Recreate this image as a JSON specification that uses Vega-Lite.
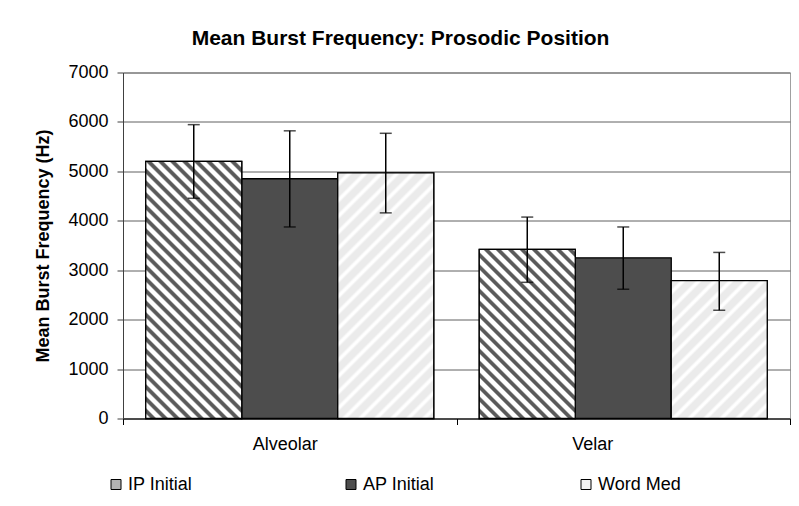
{
  "$schema": "https://vega.github.io/schema/vega-lite/v6.json",
  "width": 667,
  "height": 346,
  "autosize": {"type": "none"},
  "padding": {"left": 123, "top": 72.5, "right": 9, "bottom": 87.5},
  "background": "white",
  "title": {"text": "Mean Burst Frequency: Prosodic Position", "font": "Liberation Sans", "fontSize": 21, "fontWeight": "bold", "color": "#000", "frame": "group", "anchor": "middle", "dx": -56, "baseline": "alphabetic", "offset": -2},
  "data": {"values": [
    {"cat": "Alveolar", "series": "IP Initial", "mean": 5200, "lo": 4455, "hi": 5945},
    {"cat": "Alveolar", "series": "AP Initial", "mean": 4850, "lo": 3875, "hi": 5820},
    {"cat": "Alveolar", "series": "Word Med", "mean": 4970, "lo": 4160, "hi": 5770},
    {"cat": "Velar", "series": "IP Initial", "mean": 3420, "lo": 2755, "hi": 4075},
    {"cat": "Velar", "series": "AP Initial", "mean": 3250, "lo": 2615, "hi": 3875},
    {"cat": "Velar", "series": "Word Med", "mean": 2790, "lo": 2190, "hi": 3360}
  ]},
  "encoding": {
    "x": {"field": "cat", "type": "nominal", "sort": ["Alveolar", "Velar"], "scale": {"paddingInner": 0, "paddingOuter": 0},
      "axis": {"title": null, "labelAngle": 0, "labelFont": "Liberation Sans", "labelFontSize": 18, "labelColor": "#000", "tickBand": "extent", "tickSize": 6, "tickColor": "#000", "domainColor": "#000", "labelPadding": 11, "grid": false,
        "labelOffset": {"condition": {"test": "datum.value === 'Velar'", "value": -31}, "value": -5}}},
    "xOffset": {"field": "series", "type": "nominal", "sort": ["IP Initial", "AP Initial", "Word Med"], "scale": {"domain": ["IP Initial", "AP Initial", "Word Med"], "paddingInner": 0, "paddingOuter": 0.237}}
  },
  "layer": [
    {
      "mark": {"type": "bar", "stroke": "#000", "strokeWidth": 1.3},
      "encoding": {
        "y": {"field": "mean", "type": "quantitative", "scale": {"domain": [0, 7000], "nice": false},
          "axis": {"title": "Mean Burst Frequency (Hz)", "titleFont": "Liberation Sans", "titleFontSize": 18, "titleFontWeight": "bold", "titleColor": "#000", "titlePadding": 15,
            "values": [0, 1000, 2000, 3000, 4000, 5000, 6000, 7000], "format": "d", "labelFont": "Liberation Sans", "labelFontSize": 18, "labelColor": "#000", "labelPadding": 9,
            "tickSize": 6, "tickColor": "#404040", "domainColor": "#404040", "grid": true, "gridColor": "#606060"}},
        "color": {"field": "series", "type": "nominal", "scale": {"domain": ["IP Initial", "AP Initial", "Word Med"], "range": ["#b3b3b3", "#4d4d4d", "#f2f2f2"]},
          "legend": {"title": null, "orient": "none", "legendX": -16, "legendY": 403, "direction": "horizontal", "symbolType": "square", "symbolSize": 100, "symbolStrokeColor": "#000", "symbolStrokeWidth": 1, "labelFont": "Liberation Sans", "labelFontSize": 18, "labelColor": "#000", "labelOffset": 3, "columnPadding": 131, "gridAlign": "all", "padding": 0}}
      }
    },
    {
      "transform": [{"filter": "datum.cat === 'Alveolar' && datum.series === 'IP Initial'"}],
      "mark": {"type": "bar", "stroke": "#000", "strokeWidth": 1.3, "fill": {"gradient": "linear", "x1": 0, "y1": 1, "x2": 0.45908, "y2": -0.22915, "stops": [
        {"offset": 0.0117, "color": "#fff"}, {"offset": 0.0167, "color": "#5a5a5a"}, {"offset": 0.0267, "color": "#5a5a5a"}, {"offset": 0.0317, "color": "#fff"},
        {"offset": 0.045, "color": "#fff"}, {"offset": 0.05, "color": "#5a5a5a"}, {"offset": 0.06, "color": "#5a5a5a"}, {"offset": 0.065, "color": "#fff"},
        {"offset": 0.0783, "color": "#fff"}, {"offset": 0.0833, "color": "#5a5a5a"}, {"offset": 0.0933, "color": "#5a5a5a"}, {"offset": 0.0983, "color": "#fff"},
        {"offset": 0.1117, "color": "#fff"}, {"offset": 0.1167, "color": "#5a5a5a"}, {"offset": 0.1267, "color": "#5a5a5a"}, {"offset": 0.1317, "color": "#fff"},
        {"offset": 0.145, "color": "#fff"}, {"offset": 0.15, "color": "#5a5a5a"}, {"offset": 0.16, "color": "#5a5a5a"}, {"offset": 0.165, "color": "#fff"},
        {"offset": 0.1783, "color": "#fff"}, {"offset": 0.1833, "color": "#5a5a5a"}, {"offset": 0.1933, "color": "#5a5a5a"}, {"offset": 0.1983, "color": "#fff"},
        {"offset": 0.2117, "color": "#fff"}, {"offset": 0.2167, "color": "#5a5a5a"}, {"offset": 0.2267, "color": "#5a5a5a"}, {"offset": 0.2317, "color": "#fff"},
        {"offset": 0.245, "color": "#fff"}, {"offset": 0.25, "color": "#5a5a5a"}, {"offset": 0.26, "color": "#5a5a5a"}, {"offset": 0.265, "color": "#fff"},
        {"offset": 0.2783, "color": "#fff"}, {"offset": 0.2833, "color": "#5a5a5a"}, {"offset": 0.2933, "color": "#5a5a5a"}, {"offset": 0.2983, "color": "#fff"},
        {"offset": 0.3117, "color": "#fff"}, {"offset": 0.3167, "color": "#5a5a5a"}, {"offset": 0.3267, "color": "#5a5a5a"}, {"offset": 0.3317, "color": "#fff"},
        {"offset": 0.345, "color": "#fff"}, {"offset": 0.35, "color": "#5a5a5a"}, {"offset": 0.36, "color": "#5a5a5a"}, {"offset": 0.365, "color": "#fff"},
        {"offset": 0.3783, "color": "#fff"}, {"offset": 0.3833, "color": "#5a5a5a"}, {"offset": 0.3933, "color": "#5a5a5a"}, {"offset": 0.3983, "color": "#fff"},
        {"offset": 0.4117, "color": "#fff"}, {"offset": 0.4167, "color": "#5a5a5a"}, {"offset": 0.4267, "color": "#5a5a5a"}, {"offset": 0.4317, "color": "#fff"},
        {"offset": 0.445, "color": "#fff"}, {"offset": 0.45, "color": "#5a5a5a"}, {"offset": 0.46, "color": "#5a5a5a"}, {"offset": 0.465, "color": "#fff"},
        {"offset": 0.4783, "color": "#fff"}, {"offset": 0.4833, "color": "#5a5a5a"}, {"offset": 0.4933, "color": "#5a5a5a"}, {"offset": 0.4983, "color": "#fff"},
        {"offset": 0.5117, "color": "#fff"}, {"offset": 0.5167, "color": "#5a5a5a"}, {"offset": 0.5267, "color": "#5a5a5a"}, {"offset": 0.5317, "color": "#fff"},
        {"offset": 0.545, "color": "#fff"}, {"offset": 0.55, "color": "#5a5a5a"}, {"offset": 0.56, "color": "#5a5a5a"}, {"offset": 0.565, "color": "#fff"},
        {"offset": 0.5783, "color": "#fff"}, {"offset": 0.5833, "color": "#5a5a5a"}, {"offset": 0.5933, "color": "#5a5a5a"}, {"offset": 0.5983, "color": "#fff"},
        {"offset": 0.6117, "color": "#fff"}, {"offset": 0.6167, "color": "#5a5a5a"}, {"offset": 0.6267, "color": "#5a5a5a"}, {"offset": 0.6317, "color": "#fff"},
        {"offset": 0.645, "color": "#fff"}, {"offset": 0.65, "color": "#5a5a5a"}, {"offset": 0.66, "color": "#5a5a5a"}, {"offset": 0.665, "color": "#fff"},
        {"offset": 0.6783, "color": "#fff"}, {"offset": 0.6833, "color": "#5a5a5a"}, {"offset": 0.6933, "color": "#5a5a5a"}, {"offset": 0.6983, "color": "#fff"},
        {"offset": 0.7117, "color": "#fff"}, {"offset": 0.7167, "color": "#5a5a5a"}, {"offset": 0.7267, "color": "#5a5a5a"}, {"offset": 0.7317, "color": "#fff"},
        {"offset": 0.745, "color": "#fff"}, {"offset": 0.75, "color": "#5a5a5a"}, {"offset": 0.76, "color": "#5a5a5a"}, {"offset": 0.765, "color": "#fff"},
        {"offset": 0.7783, "color": "#fff"}, {"offset": 0.7833, "color": "#5a5a5a"}, {"offset": 0.7933, "color": "#5a5a5a"}, {"offset": 0.7983, "color": "#fff"},
        {"offset": 0.8117, "color": "#fff"}, {"offset": 0.8167, "color": "#5a5a5a"}, {"offset": 0.8267, "color": "#5a5a5a"}, {"offset": 0.8317, "color": "#fff"},
        {"offset": 0.845, "color": "#fff"}, {"offset": 0.85, "color": "#5a5a5a"}, {"offset": 0.86, "color": "#5a5a5a"}, {"offset": 0.865, "color": "#fff"},
        {"offset": 0.8783, "color": "#fff"}, {"offset": 0.8833, "color": "#5a5a5a"}, {"offset": 0.8933, "color": "#5a5a5a"}, {"offset": 0.8983, "color": "#fff"},
        {"offset": 0.9117, "color": "#fff"}, {"offset": 0.9167, "color": "#5a5a5a"}, {"offset": 0.9267, "color": "#5a5a5a"}, {"offset": 0.9317, "color": "#fff"},
        {"offset": 0.945, "color": "#fff"}, {"offset": 0.95, "color": "#5a5a5a"}, {"offset": 0.96, "color": "#5a5a5a"}, {"offset": 0.965, "color": "#fff"},
        {"offset": 0.9783, "color": "#fff"}, {"offset": 0.9833, "color": "#5a5a5a"}, {"offset": 0.9933, "color": "#5a5a5a"}, {"offset": 0.9983, "color": "#fff"}
      ]}},
      "encoding": {"y": {"field": "mean", "type": "quantitative"}}
    },
    {
      "transform": [{"filter": "datum.cat === 'Velar' && datum.series === 'IP Initial'"}],
      "mark": {"type": "bar", "stroke": "#000", "strokeWidth": 1.3, "fill": {"gradient": "linear", "x1": 0, "y1": 1, "x2": 0.91443, "y2": -0.61026, "stops": [
        {"offset": 0.0117, "color": "#fff"}, {"offset": 0.0167, "color": "#5a5a5a"}, {"offset": 0.0267, "color": "#5a5a5a"}, {"offset": 0.0317, "color": "#fff"},
        {"offset": 0.045, "color": "#fff"}, {"offset": 0.05, "color": "#5a5a5a"}, {"offset": 0.06, "color": "#5a5a5a"}, {"offset": 0.065, "color": "#fff"},
        {"offset": 0.0783, "color": "#fff"}, {"offset": 0.0833, "color": "#5a5a5a"}, {"offset": 0.0933, "color": "#5a5a5a"}, {"offset": 0.0983, "color": "#fff"},
        {"offset": 0.1117, "color": "#fff"}, {"offset": 0.1167, "color": "#5a5a5a"}, {"offset": 0.1267, "color": "#5a5a5a"}, {"offset": 0.1317, "color": "#fff"},
        {"offset": 0.145, "color": "#fff"}, {"offset": 0.15, "color": "#5a5a5a"}, {"offset": 0.16, "color": "#5a5a5a"}, {"offset": 0.165, "color": "#fff"},
        {"offset": 0.1783, "color": "#fff"}, {"offset": 0.1833, "color": "#5a5a5a"}, {"offset": 0.1933, "color": "#5a5a5a"}, {"offset": 0.1983, "color": "#fff"},
        {"offset": 0.2117, "color": "#fff"}, {"offset": 0.2167, "color": "#5a5a5a"}, {"offset": 0.2267, "color": "#5a5a5a"}, {"offset": 0.2317, "color": "#fff"},
        {"offset": 0.245, "color": "#fff"}, {"offset": 0.25, "color": "#5a5a5a"}, {"offset": 0.26, "color": "#5a5a5a"}, {"offset": 0.265, "color": "#fff"},
        {"offset": 0.2783, "color": "#fff"}, {"offset": 0.2833, "color": "#5a5a5a"}, {"offset": 0.2933, "color": "#5a5a5a"}, {"offset": 0.2983, "color": "#fff"},
        {"offset": 0.3117, "color": "#fff"}, {"offset": 0.3167, "color": "#5a5a5a"}, {"offset": 0.3267, "color": "#5a5a5a"}, {"offset": 0.3317, "color": "#fff"},
        {"offset": 0.345, "color": "#fff"}, {"offset": 0.35, "color": "#5a5a5a"}, {"offset": 0.36, "color": "#5a5a5a"}, {"offset": 0.365, "color": "#fff"},
        {"offset": 0.3783, "color": "#fff"}, {"offset": 0.3833, "color": "#5a5a5a"}, {"offset": 0.3933, "color": "#5a5a5a"}, {"offset": 0.3983, "color": "#fff"},
        {"offset": 0.4117, "color": "#fff"}, {"offset": 0.4167, "color": "#5a5a5a"}, {"offset": 0.4267, "color": "#5a5a5a"}, {"offset": 0.4317, "color": "#fff"},
        {"offset": 0.445, "color": "#fff"}, {"offset": 0.45, "color": "#5a5a5a"}, {"offset": 0.46, "color": "#5a5a5a"}, {"offset": 0.465, "color": "#fff"},
        {"offset": 0.4783, "color": "#fff"}, {"offset": 0.4833, "color": "#5a5a5a"}, {"offset": 0.4933, "color": "#5a5a5a"}, {"offset": 0.4983, "color": "#fff"},
        {"offset": 0.5117, "color": "#fff"}, {"offset": 0.5167, "color": "#5a5a5a"}, {"offset": 0.5267, "color": "#5a5a5a"}, {"offset": 0.5317, "color": "#fff"},
        {"offset": 0.545, "color": "#fff"}, {"offset": 0.55, "color": "#5a5a5a"}, {"offset": 0.56, "color": "#5a5a5a"}, {"offset": 0.565, "color": "#fff"},
        {"offset": 0.5783, "color": "#fff"}, {"offset": 0.5833, "color": "#5a5a5a"}, {"offset": 0.5933, "color": "#5a5a5a"}, {"offset": 0.5983, "color": "#fff"},
        {"offset": 0.6117, "color": "#fff"}, {"offset": 0.6167, "color": "#5a5a5a"}, {"offset": 0.6267, "color": "#5a5a5a"}, {"offset": 0.6317, "color": "#fff"},
        {"offset": 0.645, "color": "#fff"}, {"offset": 0.65, "color": "#5a5a5a"}, {"offset": 0.66, "color": "#5a5a5a"}, {"offset": 0.665, "color": "#fff"},
        {"offset": 0.6783, "color": "#fff"}, {"offset": 0.6833, "color": "#5a5a5a"}, {"offset": 0.6933, "color": "#5a5a5a"}, {"offset": 0.6983, "color": "#fff"},
        {"offset": 0.7117, "color": "#fff"}, {"offset": 0.7167, "color": "#5a5a5a"}, {"offset": 0.7267, "color": "#5a5a5a"}, {"offset": 0.7317, "color": "#fff"},
        {"offset": 0.745, "color": "#fff"}, {"offset": 0.75, "color": "#5a5a5a"}, {"offset": 0.76, "color": "#5a5a5a"}, {"offset": 0.765, "color": "#fff"},
        {"offset": 0.7783, "color": "#fff"}, {"offset": 0.7833, "color": "#5a5a5a"}, {"offset": 0.7933, "color": "#5a5a5a"}, {"offset": 0.7983, "color": "#fff"}
      ]}},
      "encoding": {"y": {"field": "mean", "type": "quantitative"}}
    },
    {
      "transform": [{"filter": "datum.cat === 'Alveolar' && datum.series === 'Word Med'"}],
      "mark": {"type": "bar", "stroke": "#000", "strokeWidth": 1.3, "fill": {"gradient": "linear", "x1": 0, "y1": 0, "x2": 0.48576, "y2": 1.24305, "stops": [
        {"offset": 0.0227, "color": "#ebebeb"}, {"offset": 0.0309, "color": "#fff"}, {"offset": 0.0373, "color": "#fff"}, {"offset": 0.0455, "color": "#ebebeb"},
        {"offset": 0.0682, "color": "#ebebeb"}, {"offset": 0.0764, "color": "#fff"}, {"offset": 0.0827, "color": "#fff"}, {"offset": 0.0909, "color": "#ebebeb"},
        {"offset": 0.1136, "color": "#ebebeb"}, {"offset": 0.1218, "color": "#fff"}, {"offset": 0.1282, "color": "#fff"}, {"offset": 0.1364, "color": "#ebebeb"},
        {"offset": 0.1591, "color": "#ebebeb"}, {"offset": 0.1673, "color": "#fff"}, {"offset": 0.1736, "color": "#fff"}, {"offset": 0.1818, "color": "#ebebeb"},
        {"offset": 0.2045, "color": "#ebebeb"}, {"offset": 0.2127, "color": "#fff"}, {"offset": 0.2191, "color": "#fff"}, {"offset": 0.2273, "color": "#ebebeb"},
        {"offset": 0.25, "color": "#ebebeb"}, {"offset": 0.2582, "color": "#fff"}, {"offset": 0.2645, "color": "#fff"}, {"offset": 0.2727, "color": "#ebebeb"},
        {"offset": 0.2955, "color": "#ebebeb"}, {"offset": 0.3036, "color": "#fff"}, {"offset": 0.31, "color": "#fff"}, {"offset": 0.3182, "color": "#ebebeb"},
        {"offset": 0.3409, "color": "#ebebeb"}, {"offset": 0.3491, "color": "#fff"}, {"offset": 0.3555, "color": "#fff"}, {"offset": 0.3636, "color": "#ebebeb"},
        {"offset": 0.3864, "color": "#ebebeb"}, {"offset": 0.3945, "color": "#fff"}, {"offset": 0.4009, "color": "#fff"}, {"offset": 0.4091, "color": "#ebebeb"},
        {"offset": 0.4318, "color": "#ebebeb"}, {"offset": 0.44, "color": "#fff"}, {"offset": 0.4464, "color": "#fff"}, {"offset": 0.4545, "color": "#ebebeb"},
        {"offset": 0.4773, "color": "#ebebeb"}, {"offset": 0.4855, "color": "#fff"}, {"offset": 0.4918, "color": "#fff"}, {"offset": 0.5, "color": "#ebebeb"},
        {"offset": 0.5227, "color": "#ebebeb"}, {"offset": 0.5309, "color": "#fff"}, {"offset": 0.5373, "color": "#fff"}, {"offset": 0.5455, "color": "#ebebeb"},
        {"offset": 0.5682, "color": "#ebebeb"}, {"offset": 0.5764, "color": "#fff"}, {"offset": 0.5827, "color": "#fff"}, {"offset": 0.5909, "color": "#ebebeb"},
        {"offset": 0.6136, "color": "#ebebeb"}, {"offset": 0.6218, "color": "#fff"}, {"offset": 0.6282, "color": "#fff"}, {"offset": 0.6364, "color": "#ebebeb"},
        {"offset": 0.6591, "color": "#ebebeb"}, {"offset": 0.6673, "color": "#fff"}, {"offset": 0.6736, "color": "#fff"}, {"offset": 0.6818, "color": "#ebebeb"},
        {"offset": 0.7045, "color": "#ebebeb"}, {"offset": 0.7127, "color": "#fff"}, {"offset": 0.7191, "color": "#fff"}, {"offset": 0.7273, "color": "#ebebeb"},
        {"offset": 0.75, "color": "#ebebeb"}, {"offset": 0.7582, "color": "#fff"}, {"offset": 0.7645, "color": "#fff"}, {"offset": 0.7727, "color": "#ebebeb"},
        {"offset": 0.7955, "color": "#ebebeb"}, {"offset": 0.8036, "color": "#fff"}, {"offset": 0.81, "color": "#fff"}, {"offset": 0.8182, "color": "#ebebeb"},
        {"offset": 0.8409, "color": "#ebebeb"}, {"offset": 0.8491, "color": "#fff"}, {"offset": 0.8555, "color": "#fff"}, {"offset": 0.8636, "color": "#ebebeb"},
        {"offset": 0.8864, "color": "#ebebeb"}, {"offset": 0.8945, "color": "#fff"}, {"offset": 0.9009, "color": "#fff"}, {"offset": 0.9091, "color": "#ebebeb"},
        {"offset": 0.9318, "color": "#ebebeb"}, {"offset": 0.94, "color": "#fff"}, {"offset": 0.9464, "color": "#fff"}, {"offset": 0.9545, "color": "#ebebeb"},
        {"offset": 0.9773, "color": "#ebebeb"}, {"offset": 0.9855, "color": "#fff"}, {"offset": 0.9918, "color": "#fff"}, {"offset": 1, "color": "#ebebeb"}
      ]}},
      "encoding": {"y": {"field": "mean", "type": "quantitative"}}
    },
    {
      "transform": [{"filter": "datum.cat === 'Velar' && datum.series === 'Word Med'"}],
      "mark": {"type": "bar", "stroke": "#000", "strokeWidth": 1.3, "fill": {"gradient": "linear", "x1": 0, "y1": 0, "x2": 1.1968, "y2": 1.71929, "stops": [
        {"offset": 0.0227, "color": "#ebebeb"}, {"offset": 0.0309, "color": "#fff"}, {"offset": 0.0373, "color": "#fff"}, {"offset": 0.0455, "color": "#ebebeb"},
        {"offset": 0.0682, "color": "#ebebeb"}, {"offset": 0.0764, "color": "#fff"}, {"offset": 0.0827, "color": "#fff"}, {"offset": 0.0909, "color": "#ebebeb"},
        {"offset": 0.1136, "color": "#ebebeb"}, {"offset": 0.1218, "color": "#fff"}, {"offset": 0.1282, "color": "#fff"}, {"offset": 0.1364, "color": "#ebebeb"},
        {"offset": 0.1591, "color": "#ebebeb"}, {"offset": 0.1673, "color": "#fff"}, {"offset": 0.1736, "color": "#fff"}, {"offset": 0.1818, "color": "#ebebeb"},
        {"offset": 0.2045, "color": "#ebebeb"}, {"offset": 0.2127, "color": "#fff"}, {"offset": 0.2191, "color": "#fff"}, {"offset": 0.2273, "color": "#ebebeb"},
        {"offset": 0.25, "color": "#ebebeb"}, {"offset": 0.2582, "color": "#fff"}, {"offset": 0.2645, "color": "#fff"}, {"offset": 0.2727, "color": "#ebebeb"},
        {"offset": 0.2955, "color": "#ebebeb"}, {"offset": 0.3036, "color": "#fff"}, {"offset": 0.31, "color": "#fff"}, {"offset": 0.3182, "color": "#ebebeb"},
        {"offset": 0.3409, "color": "#ebebeb"}, {"offset": 0.3491, "color": "#fff"}, {"offset": 0.3555, "color": "#fff"}, {"offset": 0.3636, "color": "#ebebeb"},
        {"offset": 0.3864, "color": "#ebebeb"}, {"offset": 0.3945, "color": "#fff"}, {"offset": 0.4009, "color": "#fff"}, {"offset": 0.4091, "color": "#ebebeb"},
        {"offset": 0.4318, "color": "#ebebeb"}, {"offset": 0.44, "color": "#fff"}, {"offset": 0.4464, "color": "#fff"}, {"offset": 0.4545, "color": "#ebebeb"},
        {"offset": 0.4773, "color": "#ebebeb"}, {"offset": 0.4855, "color": "#fff"}, {"offset": 0.4918, "color": "#fff"}, {"offset": 0.5, "color": "#ebebeb"},
        {"offset": 0.5227, "color": "#ebebeb"}, {"offset": 0.5309, "color": "#fff"}, {"offset": 0.5373, "color": "#fff"}, {"offset": 0.5455, "color": "#ebebeb"},
        {"offset": 0.5682, "color": "#ebebeb"}, {"offset": 0.5764, "color": "#fff"}, {"offset": 0.5827, "color": "#fff"}, {"offset": 0.5909, "color": "#ebebeb"},
        {"offset": 0.6136, "color": "#ebebeb"}, {"offset": 0.6218, "color": "#fff"}, {"offset": 0.6282, "color": "#fff"}, {"offset": 0.6364, "color": "#ebebeb"},
        {"offset": 0.6591, "color": "#ebebeb"}, {"offset": 0.6673, "color": "#fff"}, {"offset": 0.6736, "color": "#fff"}, {"offset": 0.6818, "color": "#ebebeb"},
        {"offset": 0.7045, "color": "#ebebeb"}, {"offset": 0.7127, "color": "#fff"}, {"offset": 0.7191, "color": "#fff"}, {"offset": 0.7273, "color": "#ebebeb"}
      ]}},
      "encoding": {"y": {"field": "mean", "type": "quantitative"}}
    },
    {
      "mark": {"type": "rule", "color": "#000", "strokeWidth": 1.5},
      "encoding": {"y": {"field": "lo", "type": "quantitative"}, "y2": {"field": "hi"}}
    },
    {
      "mark": {"type": "tick", "color": "#000", "thickness": 1.5, "size": 12, "orient": "horizontal"},
      "encoding": {"y": {"field": "lo", "type": "quantitative"}}
    },
    {
      "mark": {"type": "tick", "color": "#000", "thickness": 1.5, "size": 12, "orient": "horizontal"},
      "encoding": {"y": {"field": "hi", "type": "quantitative"}}
    }
  ],
  "config": {
    "view": {"stroke": "#a0a0a0", "strokeWidth": 1},
    "axis": {"domainWidth": 1, "tickWidth": 1, "gridWidth": 1}
  }
}
